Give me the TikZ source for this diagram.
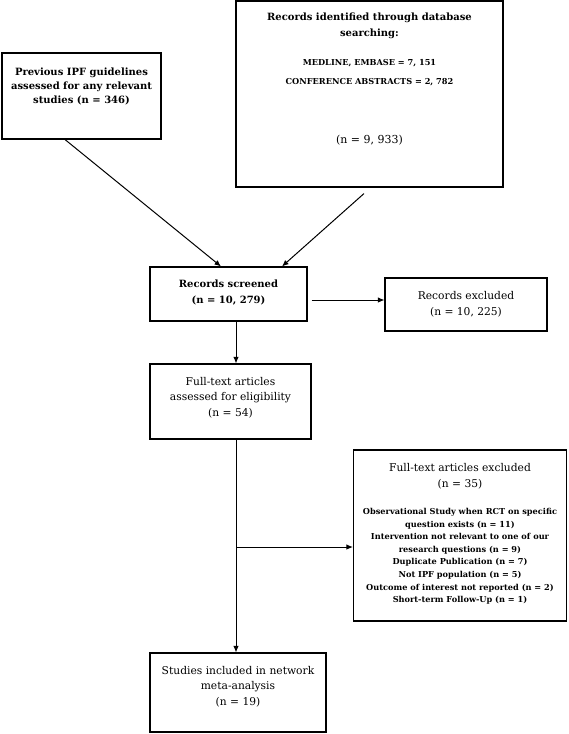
\documentclass[tikz,border=0pt]{standalone}
\usepackage{fontspec}
\setmainfont{DejaVu Serif}
\usetikzlibrary{arrows.meta}
\tikzset{
  box/.style={draw, line width=1.1pt, inner sep=0pt, rectangle},
  txt/.style={inner sep=0pt, align=center, anchor=north, font=\fontsize{10.7}{15.5}\selectfont},
  btxt/.style={txt, font=\fontsize{10}{14.5}\selectfont\bfseries},
  smtxt/.style={inner sep=0pt, align=center, anchor=north, font=\fontsize{8.2}{12.6}\selectfont\bfseries},
  conn/.style={-{Latex[length=6.5pt,width=5.5pt]}, line width=1pt},
}
\begin{document}
\begin{tikzpicture}[x=1pt,y=-1pt]
\useasboundingbox (0,0) rectangle (568,734);
% boxes
\node[box, minimum width=159pt, minimum height=86pt] (A) at (81.5,96) {};
\node[box, minimum width=267pt, minimum height=186pt] (B) at (369.5,94) {};
\node[box, minimum width=157pt, minimum height=54pt] (C) at (228.5,294) {};
\node[box, minimum width=162pt, minimum height=53pt] (D) at (466,304.5) {};
\node[box, minimum width=161pt, minimum height=75pt] (E) at (230.5,401.5) {};
\node[box, minimum width=213pt, minimum height=171pt] (F) at (460,535.5) {};
\node[box, minimum width=176pt, minimum height=79pt] (G) at (238,692.5) {};
% texts
\node[btxt, font=\fontsize{10}{14}\selectfont\bfseries] (tA) at (81.5,68) {Previous IPF guidelines\\assessed for any relevant\\studies (n = 346)};
\node[btxt, font=\fontsize{10}{16}\selectfont\bfseries] (tB1) at (369.5,13) {Records identified through database\\searching:};
\node[smtxt] (tB2) at (369.5,59) {MEDLINE, EMBASE = 7, 151};
\node[smtxt] (tB2b) at (369.5,78) {CONFERENCE ABSTRACTS = 2, 782};
\node[txt, font=\fontsize{11}{15}\selectfont] (tB3) at (369.5,135) {(n = 9, 933)};
\node[btxt, font=\fontsize{10}{16}\selectfont\bfseries] (tC) at (228.5,280) {Records screened\\(n = 10, 279)};
\node[txt, font=\fontsize{10.7}{16}\selectfont] (tD) at (466,291) {Records excluded\\(n = 10, 225)};
\node[txt] (tE) at (230.5,377) {Full-text articles\\assessed for eligibility\\(n = 54)};
\node[txt, font=\fontsize{10.7}{16.5}\selectfont] (tF1) at (460,463) {Full-text articles excluded\\(n = 35)};
\node[smtxt] (tF2) at (460,508) {Observational Study when RCT on specific\\question exists (n = 11)\\Intervention not relevant to one of our\\research questions (n = 9)\\Duplicate Publication (n = 7)\\Not IPF population (n = 5)\\Outcome of interest not reported (n = 2)\\Short-term Follow-Up (n = 1)};
\node[txt] (tG) at (238,666) {Studies included in network\\meta-analysis\\(n = 19)};
% connectors
\draw[conn] ([xshift=-16.5pt]A.south) -- ([xshift=-7.5pt]C.north);
\draw[conn] ([xshift=-5.5pt,yshift=-6pt]B.south) -- ([xshift=53.5pt]C.north);
\draw[conn] ([xshift=4pt,yshift=-6pt]C.east) -- ([yshift=-6pt]C.east -| D.west);
\draw[conn] ([xshift=7.5pt]C.south) -- ([xshift=7.5pt]C.south |- E.north);
\draw[conn] ([xshift=5.5pt]E.south) -- ([xshift=5.5pt]E.south |- G.north);
\coordinate (br) at (236,547);
\draw[conn] (br) -- (br -| F.west);
\end{tikzpicture}
\end{document}
